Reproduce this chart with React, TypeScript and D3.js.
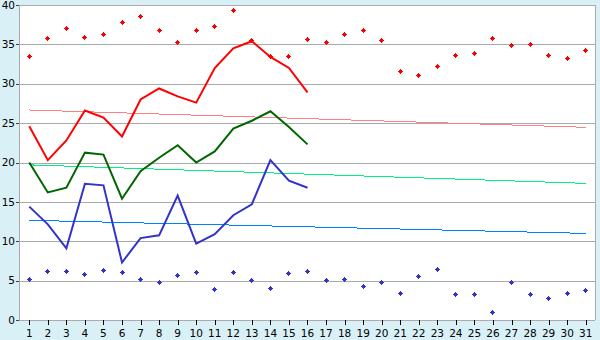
import React from "react";
import * as d3 from "d3";

const days = d3.range(1, 32).map(String);
const recordMax = [33.5, 35.8, 37.0, 35.9, 36.3, 37.8, 38.6, 36.8, 35.3, 36.8, 37.3, 39.3, 35.5, 33.5, 33.5, 35.6, 35.3, 36.3, 36.8, 35.5, 31.6, 31.1, 32.2, 33.6, 33.9, 35.8, 34.9, 35.0, 33.6, 33.2, 34.2];
const recordMin = [5.17, 6.18, 6.18, 5.8, 6.3, 6.06, 5.17, 4.78, 5.67, 6.06, 3.9, 6.06, 5.04, 4.02, 5.93, 6.18, 5.04, 5.17, 4.28, 4.78, 3.39, 5.55, 6.43, 3.26, 3.26, 0.97, 4.78, 3.26, 2.75, 3.39, 3.77];
const maxTemp = [24.6, 20.3, 22.8, 26.6, 25.7, 23.3, 28.0, 29.4, 28.4, 27.6, 32.0, 34.5, 35.4, 33.4, 32.0, 28.9];
const meanTemp = [20.0, 16.2, 16.8, 21.25, 21.0, 15.4, 18.9, 20.6, 22.2, 20.0, 21.4, 24.3, 25.3, 26.5, 24.5, 22.3];
const minTemp = [14.4, 12.15, 9.1, 17.3, 17.1, 7.3, 10.4, 10.75, 15.8, 9.7, 10.9, 13.3, 14.7, 20.3, 17.7, 16.8];
const trendDays = ["1", "31"];
const maxTrend = [26.67, 24.47];
const meanTrend = [19.7, 17.35];
const minTrend = [12.66, 11.0];
const yTicks = [0, 5, 10, 15, 20, 25, 30, 35, 40];

const W = 600, H = 340;
const L = 20, R = 595, T = 5, B = 320;

// 5x5 pixel cross/diamond marker, pixel-aligned (centre pixel spans [0,1])
const markerPath = "M0,-2h1v1h1v1h1v1h-1v1h-1v1h-1v-1h-1v-1h-1v-1h1v-1h1z";

export default function App() {
  const x = d3.scaleBand<string>().domain(days).range([L, R]);
  const y = d3.scaleLinear().domain([0, 40]).range([B, T]);
  const cx = (d: string) => (x(d) as number) + x.bandwidth() / 2;
  const line = d3.line<number>().x((_, i) => cx(days[i])).y((v) => y(v));
  const tline = d3.line<number>().x((_, i) => cx(trendDays[i])).y((v) => y(v));
  const font = "DejaVu Sans, Verdana, sans-serif";

  return (
    <div style={{ position: "fixed", left: 0, top: 0 }}>
      <svg width={W} height={H} style={{ display: "block" }}>
        <rect x={0} y={0} width={W} height={H} fill="#d9f0f7" />
        <rect x={L} y={T} width={R - L} height={B - T} fill="#ffffff" />
        {yTicks.map((t) => (
          <g key={t}>
            <line x1={L} x2={R} y1={Math.round(y(t)) + 0.5} y2={Math.round(y(t)) + 0.5} stroke="#aaaaaa" shapeRendering="crispEdges" />
            <line x1={16} x2={L} y1={Math.round(y(t)) + 0.5} y2={Math.round(y(t)) + 0.5} stroke="#444" shapeRendering="crispEdges" />
            <text x={15} y={y(t)} dy="0.35em" textAnchor="end" fontSize={10.5} fontFamily={font} fill="#000">{t}</text>
          </g>
        ))}
        <line x1={R + 0.5} x2={R + 0.5} y1={T} y2={B} stroke="#aaaaaa" shapeRendering="crispEdges" />
        <line x1={L - 0.5} x2={L - 0.5} y1={T} y2={B + 1} stroke="#aaaaaa" shapeRendering="crispEdges" />
        {days.map((d) => (
          <g key={d}>
            <line x1={Math.round(cx(d)) + 0.5} x2={Math.round(cx(d)) + 0.5} y1={B} y2={B + 5} stroke="#000" shapeRendering="crispEdges" />
            <text x={cx(d)} y={337} textAnchor="middle" fontSize={10.5} fontFamily={font} fill="#000">{d}</text>
          </g>
        ))}
        <path d={tline(maxTrend) || ""} fill="none" stroke="#ff8080" strokeWidth={1} shapeRendering="crispEdges" />
        <path d={tline(meanTrend) || ""} fill="none" stroke="#00f080" strokeWidth={1} shapeRendering="crispEdges" />
        <path d={tline(minTrend) || ""} fill="none" stroke="#0080ff" strokeWidth={1} shapeRendering="crispEdges" />
        <path d={line(maxTemp) || ""} fill="none" stroke="#ff0000" strokeWidth={2} />
        <path d={line(meanTemp) || ""} fill="none" stroke="#006600" strokeWidth={2} />
        <path d={line(minTemp) || ""} fill="none" stroke="#3333cc" strokeWidth={2} />
        {recordMax.map((v, i) => (
          <path key={"mx" + i} d={markerPath} transform={`translate(${Math.floor(cx(days[i]))},${Math.floor(y(v))})`} fill="#ff0000" shapeRendering="crispEdges" />
        ))}
        {recordMin.map((v, i) => (
          <path key={"mn" + i} d={markerPath} transform={`translate(${Math.floor(cx(days[i]))},${Math.floor(y(v))})`} fill="#3333cc" shapeRendering="crispEdges" />
        ))}
      </svg>
    </div>
  );
}
